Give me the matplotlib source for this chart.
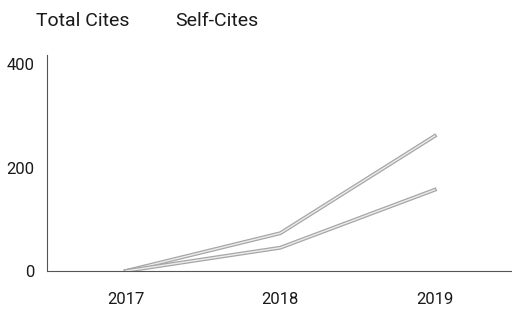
import matplotlib.pyplot as plt
import matplotlib.patheffects as pe

plt.rcParams['font.family'] = ['Roboto', 'DejaVu Sans']

years = [2017, 2018, 2019]
series_names = ['Total Cites', 'Self-Cites']
total_cites = [0, 73, 261]
self_cites = [0, 45, 157]
yticks = [0, 200, 400]

fig = plt.figure(figsize=(5.12, 3.11), dpi=100)
ax = fig.add_axes([47/512, 40/311, 465/512, 216/311])

for vals in (total_cites, self_cites):
    ax.plot(years, vals, color='#ececec', lw=1.0,
            path_effects=[pe.Stroke(linewidth=2.8, foreground='#a6a6a6'), pe.Normal()])

ax.set_xlim(2016.49, 2019.5)
ax.set_ylim(0, 400 * (216/207))
ax.set_xticks(years)
ax.set_yticks(yticks)
ax.tick_params(length=0, labelsize=12, colors='#1a1a1a', pad=9)
ax.tick_params(axis='x', pad=15)
for s in ['top', 'right']:
    ax.spines[s].set_visible(False)
for s in ['left', 'bottom']:
    ax.spines[s].set_color('#555555')
    ax.spines[s].set_linewidth(0.8)

fig.text(36/512, 1 - 21/311, series_names[0], fontsize=14, va='center', color='#1a1a1a')
fig.text(175/512, 1 - 21/311, series_names[1], fontsize=14, va='center', color='#1a1a1a')

fig.savefig('out.png', dpi=100)
